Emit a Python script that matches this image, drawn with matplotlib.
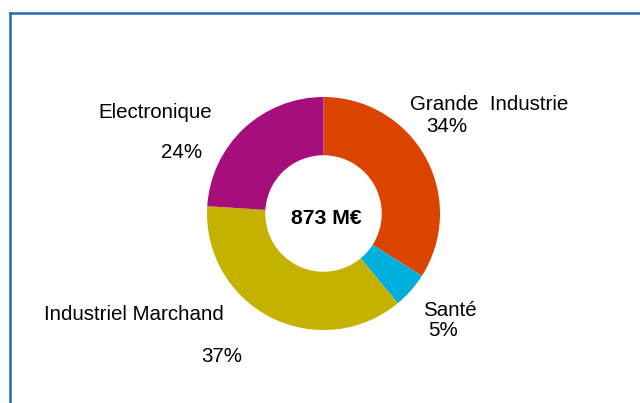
import matplotlib
matplotlib.use("Agg")
import matplotlib.pyplot as plt
from matplotlib.lines import Line2D

plt.rcParams['font.family'] = ['Liberation Sans', 'DejaVu Sans']

categories = ["Grande  Industrie", "Santé", "Industriel Marchand", "Electronique"]
values = [34, 5, 37, 24]
pct_labels = ["34%", "5%", "37%", "24%"]
colors = ["#DA4300", "#00AFDB", "#C4B100", "#A60F7B"]
total_label = "873 M€"

W, H = 640, 403
fig = plt.figure(figsize=(W / 100, H / 100), dpi=100)
fig.patch.set_facecolor("white")

# donut geometry in pixels
cx, cy, r = 323.5, 213.5, 116.5
ax = fig.add_axes([(cx - r) / W, (H - cy - r) / H, 2 * r / W, 2 * r / H])
ax.pie(values, colors=colors, startangle=90, counterclock=False, radius=1,
       wedgeprops=dict(width=0.5, edgecolor="none"))
ax.set_xlim(-1, 1)
ax.set_ylim(-1, 1)
ax.set_aspect("equal")
ax.axis("off")
ax.text(0.02, -0.045, total_label, ha="center", va="center", fontsize=15.3,
        fontweight="bold", color="black")

def ftext(x, y, s, **kw):
    fig.text(x / W, 1 - y / H, s, ha="center", va="center", fontsize=14.8,
             color="black", **kw)

# label positions (pixels)
name_pos = [(489.5, 104), (450, 310), (134, 315), (155, 112)]
pct_pos = [(447, 126), (443, 330), (222, 357), (182, 152)]
for name, p, (nx, ny), (px, py) in zip(categories, pct_labels, name_pos, pct_pos):
    ftext(nx, ny, name)
    ftext(px, py, p)

# frame lines (top and left)
bc = "#2268B2"
fig.add_artist(Line2D([9.5 / W, 1.0], [1 - 12.5 / H, 1 - 12.5 / H],
                      transform=fig.transFigure, color=bc, lw=1.8))
fig.add_artist(Line2D([9.5 / W, 9.5 / W], [1 - 12.5 / H, 0.0],
                      transform=fig.transFigure, color=bc, lw=1.8))

fig.savefig("out.png", dpi=100, facecolor="white")
